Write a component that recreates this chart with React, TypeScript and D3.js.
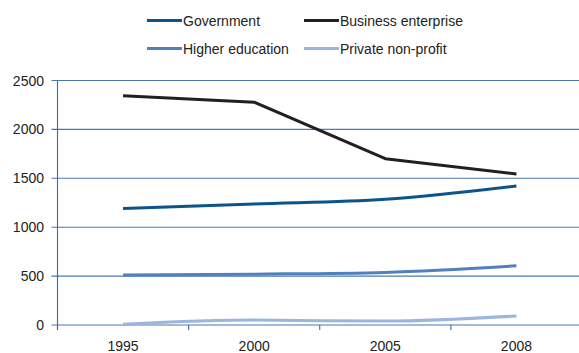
import React from "react";
import * as d3 from "d3";

const years = ["1995", "2000", "2005", "2008"];
const government = [1190, 1238, 1285, 1422];
const business = [2345, 2278, 1700, 1545];
const higherEducation = [510, 520, 538, 605];
const privateNonProfit = [8, 50, 40, 92];
const yTicks = [0, 500, 1000, 1500, 2000, 2500];

const seriesNames = ["Government", "Business enterprise", "Higher education", "Private non-profit"];
const seriesColors = ["#0b5488", "#231f20", "#4f81bd", "#9bb5dd"];
const seriesValues = [government, business, higherEducation, privateNonProfit];

const W = 579;
const H = 353;
const left = 57.5;
const right = 582;
const top = 80.5;
const bottom = 325;
const font = "'Liberation Sans', Arial, sans-serif";

export default function App() {
  const x = d3.scaleBand<string>().domain(years).range([left, right]).padding(0);
  const y = d3.scaleLinear().domain([0, 2500]).range([bottom, top]);
  const line = d3
    .line<number>()
    .x((_, i) => (x(years[i]) as number) + x.bandwidth() / 2)
    .y((d) => y(d));
  const smooth = d3
    .line<number>()
    .x((_, i) => (x(years[i]) as number) + x.bandwidth() / 2)
    .y((d) => y(d))
    .curve(d3.curveMonotoneX);

  const legendPos = [
    { x: 147, y: 20.5 },
    { x: 304, y: 20.5 },
    { x: 147, y: 48.5 },
    { x: 304, y: 48.5 },
  ];
  const boundaries = years.map((yr) => x(yr) as number).concat([right]);

  return (
    <svg
      width={W}
      height={H}
      style={{ position: "absolute", left: 0, top: 0, background: "#fff" }}
      fontFamily={font}
    >
      {/* gridlines */}
      {yTicks.map((t) => (
        <line key={"g" + t} x1={left - 6} x2={W} y1={y(t)} y2={y(t)} stroke="#4a78b2" strokeWidth={1.1} />
      ))}
      {/* y axis */}
      <line x1={left} x2={left} y1={top} y2={bottom + 5} stroke="#3a68a8" strokeWidth={1.1} />
      {/* x ticks */}
      {boundaries.map((b, i) => (
        <line key={"t" + i} x1={b} x2={b} y1={bottom} y2={bottom + 5} stroke="#3a68a8" strokeWidth={1.1} />
      ))}
      {/* y labels */}
      {yTicks.map((t) => (
        <text key={"yl" + t} x={44} y={y(t) + 5} textAnchor="end" fontSize={14} fill="#222">
          {t}
        </text>
      ))}
      {/* x labels */}
      {years.map((yr) => (
        <text
          key={"xl" + yr}
          x={(x(yr) as number) + x.bandwidth() / 2}
          y={351}
          textAnchor="middle"
          fontSize={14}
          fill="#222"
        >
          {yr}
        </text>
      ))}
      {/* series */}
      {seriesValues.map((vals, i) => (
        <path
          key={"s" + i}
          d={(i === 1 ? line(vals) : smooth(vals)) as string}
          fill="none"
          stroke={seriesColors[i]}
          strokeWidth={3}
          strokeLinejoin="round"
        />
      ))}
      {/* legend */}
      {seriesNames.map((n, i) => (
        <g key={"lg" + i}>
          <line
            x1={legendPos[i].x}
            x2={legendPos[i].x + 35}
            y1={legendPos[i].y}
            y2={legendPos[i].y}
            stroke={seriesColors[i]}
            strokeWidth={3}
          />
          <text x={legendPos[i].x + 36} y={legendPos[i].y + 5} fontSize={14} fill="#222">
            {n}
          </text>
        </g>
      ))}
    </svg>
  );
}
